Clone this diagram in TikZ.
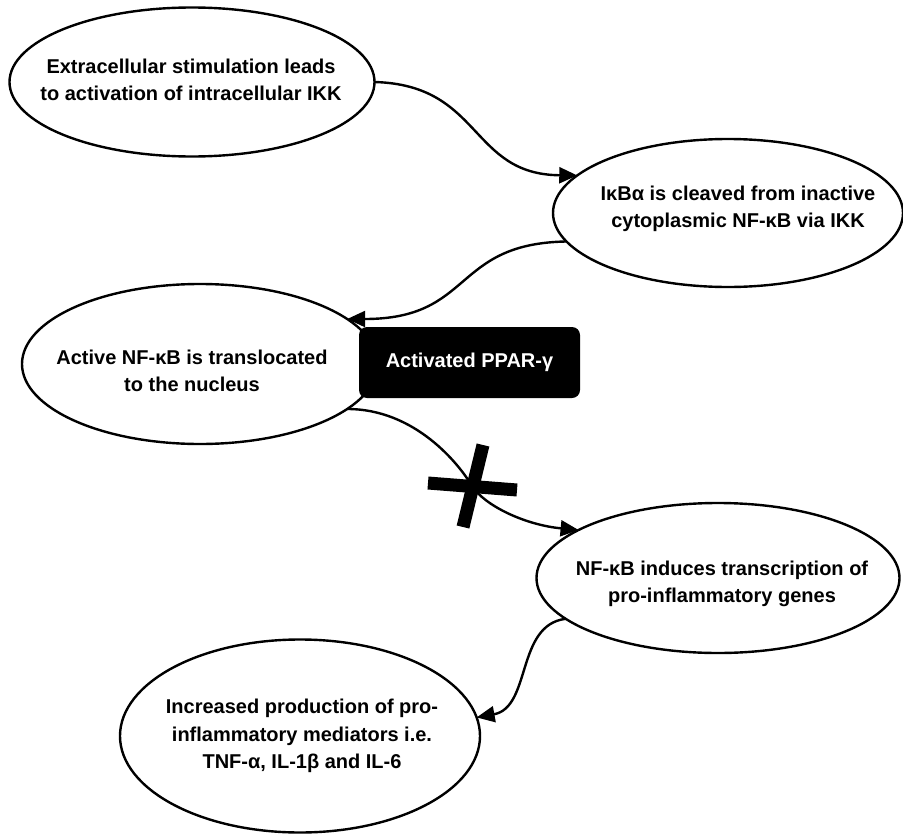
\documentclass[tikz,border=0pt]{standalone}
\usepackage{fontspec}
\setmainfont{Liberation Sans}
\usetikzlibrary{shapes.geometric,arrows.meta}
\begin{document}
\begin{tikzpicture}[x=1pt,y=-1pt,
  ell/.style={draw,ellipse,line width=2.4pt,inner sep=0pt,outer sep=0pt,fill=white},
  txt/.style={align=center,font=\fontsize{20}{27.5}\selectfont\bfseries,inner sep=0pt},
  conn/.style={line width=2.4pt,-{Triangle[length=18pt,width=16pt]}},
  crossbar/.style={line width=13pt},
  blackbox/.style={fill=black,rounded corners=8pt,minimum width=221pt,minimum height=71pt,text=white,inner sep=0pt,font=\fontsize{20}{27.5}\selectfont\bfseries}
]
\useasboundingbox (0,0) rectangle (903,838);
% ellipses
\node[ell,minimum width=365pt,minimum height=149pt] (e1) at (192,82) {};
\node[ell,minimum width=350pt,minimum height=148pt] (e2) at (728,213) {};
\node[ell,minimum width=356pt,minimum height=160pt] (e3) at (200,364) {};
\node[ell,minimum width=363pt,minimum height=150pt] (e4) at (718,578) {};
\node[ell,minimum width=360pt,minimum height=193pt] (e5) at (300,736) {};
% texts
\node[txt] (t1) at (191,80) {Extracellular stimulation leads\\to activation of intracellular IKK};
\node[txt] (t2) at (738,209) {IκBα is cleaved from inactive\\cytoplasmic NF-κB via IKK};
\node[txt] (t3) at (192,371) {Active NF-κB is translocated\\to the nucleus};
\node[txt] (t4) at (722,584) {NF-κB induces transcription of\\pro-inflammatory genes};
\node[txt] (t5) at (302,736) {Increased production of pro-\\inflammatory mediators i.e.\\TNF-α, IL-1β and IL-6};
% connectors
\coordinate (x) at (472,486);
\draw[conn] (e1.east) .. controls +(108,3) and +(-108,-1) .. (e2.166);
\draw[conn] (e2.190.4) .. controls +(-115,2) and +(127,0) .. (e3.17.8);
\draw[conn] (e3.343.9) .. controls +(68,0) and +(-13,-22) .. (x) .. controls +(13,20) and +(-53,-5) .. (e4.161.8);
\draw[conn] (e4.195) .. controls +(-50,6) and +(55,-10) .. (e5.6.8);
% PPAR box
\node[blackbox] (ppar) at (469.5,362.5) {Activated PPAR-γ};
% cross
\draw[crossbar] (x) +(-44,-3) -- +(45,4);
\draw[crossbar] (x) +(11,-41) -- +(-9,41);
\end{tikzpicture}
\end{document}
